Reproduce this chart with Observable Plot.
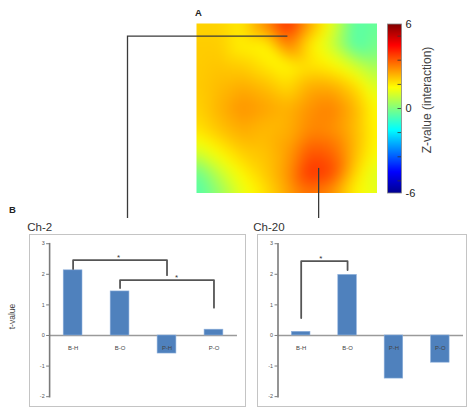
<!DOCTYPE html>
<html><head><meta charset="utf-8">
<script src="https://cdn.jsdelivr.net/npm/d3@7"></script>
<script src="https://cdn.jsdelivr.net/npm/@observablehq/plot@0.6"></script>
<style>
body{margin:0;background:#fff;}
#fig{position:relative;width:468px;height:410px;overflow:hidden;font-family:"Liberation Sans",Arial,sans-serif;background:#fff;}
.abs{position:absolute;}
.box{position:absolute;border:1px solid #c4c4c4;box-sizing:border-box;}
.box svg{position:absolute;left:-1px;top:-1px;}
#overlay{position:absolute;left:0;top:0;pointer-events:none;}
</style></head><body><div id="fig"></div>
<script>
// ---------- DATA ----------
// Z-value (interaction) map, 9 x 9 samples (row 0 = top)
const zRow0 = [2.0, 2.0, 1.7, 2.9, 4.2, 2.6, 1.2, -0.5, -0.3];
const zRow1 = [2.1, 2.1, 1.6, 1.5, 3.1, 1.7, 0.8, -0.6, -0.1];
const zRow2 = [2.1, 2.2, 2.1, 1.8, 1.5, 1.8, 1.6, 1.0, 0.4];
const zRow3 = [2.1, 2.3, 2.5, 2.3, 1.9, 2.5, 2.5, 2.0, 1.0];
const zRow4 = [2.0, 2.4, 2.8, 2.6, 2.4, 2.8, 3.0, 2.4, 1.4];
const zRow5 = [1.8, 2.2, 2.5, 2.3, 2.4, 2.9, 2.8, 2.3, 1.5];
const zRow6 = [1.0, 1.6, 2.1, 2.2, 2.6, 3.5, 3.3, 2.3, 1.4];
const zRow7 = [-0.3, 0.8, 1.6, 2.1, 2.7, 4.0, 3.7, 2.0, 1.0];
const zRow8 = [-0.6, 0.2, 1.2, 1.8, 2.5, 3.1, 2.7, 1.6, 1.2];
const zGrid = [zRow0, zRow1, zRow2, zRow3, zRow4, zRow5, zRow6, zRow7, zRow8];
const colorTicks = [-6, 0, 6];
const colorMinorTicks = [-5.14, -3.43, -1.71, 0, 1.71, 3.43, 5.14];
const colorLabel = "Z-value (interaction)";
// channel locations on the map (grid units)
const channelNames = ["Ch-2", "Ch-20"];
const channelX = [4.04, 5.42];
const channelY = [0.62, 6.82];

const categories = ["B-H", "B-O", "P-H", "P-O"];
const ch2Values = [2.13, 1.44, -0.59, 0.19];
const ch20Values = [0.12, 1.98, -1.41, -0.89];
const yTicks = [-2, -1, 0, 1, 2, 3];
const ch2Brackets = [
  {from: "B-H", to: "P-H", yFrom: 2.17, yTop: 2.46, yTo: 1.97},
  {from: "B-O", to: "P-O", yFrom: 1.55, yTop: 1.81, yTo: 0.91}
];
const ch20Brackets = [
  {from: "B-H", to: "B-O", yFrom: 0.57, yTop: 2.43, yTo: 2.14}
];

// ---------- LAYOUT ----------
const FONT = '"Liberation Sans", Arial, sans-serif';
const fig = document.getElementById("fig");
const jet = {
  type: "linear",
  domain: [-6, -4.5, -1.5, 1.5, 4.5, 6],
  range: ["#00008f", "#0000ff", "#00ffff", "#ffff00", "#ff0000", "#800000"],
  interpolate: "rgb"
};

// Heatmap
const heatSamples = zGrid.flatMap((row, j) => row.map((z, i) => ({col: i, row: j, z})));
const HEAT = {left: 196, top: 23, width: 181, height: 170};
const heat = Plot.plot({
  width: HEAT.width, height: HEAT.height, margin: 0,
  x: {domain: [0, 8], axis: null},
  y: {domain: [0, 8], reverse: true, axis: null},
  color: jet,
  marks: [
    Plot.raster(heatSamples, {x: "col", y: "row", fill: "z", interpolate: "barycentric", blur: 6, pixelSize: 1})
  ]
});
heat.classList.add("abs");
heat.style.left = HEAT.left + "px"; heat.style.top = HEAT.top + "px";
fig.appendChild(heat);

// Colorbar
const cbar = Plot.plot({
  width: 60, height: 220, marginLeft: 7, marginRight: 39, marginTop: 23.5, marginBottom: 27.5,
  style: {fontFamily: FONT, color: "#222", background: "transparent"},
  x: {domain: [0, 1], axis: null},
  y: {domain: [-6, 6], axis: null},
  color: jet,
  marks: [
    Plot.raster({fill: (x, y) => y, x1: 0, x2: 1, y1: -6, y2: 6, pixelSize: 1}),
    Plot.ruleY(colorMinorTicks, {x1: 0.75, x2: 1, stroke: "#333", strokeWidth: 0.8}),
    Plot.frame({stroke: "#888", strokeWidth: 0.8}),
    Plot.axisY(colorTicks, {anchor: "right", tickSize: 0, tickPadding: 4, fontSize: 11, tickFormat: d => String(d), label: null})
  ]
});
cbar.classList.add("abs");
cbar.style.left = "380px"; cbar.style.top = "0px";
fig.appendChild(cbar);

// Bar panels
function barPanel(values, brackets, o) {
  const data = categories.map((c, i) => ({cat: c, v: values[i]}));
  const pts = brackets.flatMap((b, k) => [
    {k, x: b.from, y: b.yFrom}, {k, x: b.from, y: b.yTop},
    {k, x: b.to, y: b.yTop}, {k, x: b.to, y: b.yTo}
  ]);
  const p = Plot.plot({
    width: o.width, height: o.height,
    marginLeft: o.marginLeft, marginRight: o.marginRight, marginTop: 9.3, marginBottom: 9.3,
    style: {fontFamily: FONT, background: "transparent"},
    x: {domain: categories, paddingInner: 0.6, paddingOuter: 0.3, round: false, axis: null},
    y: {domain: [-2, 3], axis: null},
    marks: [
      Plot.ruleY([0], {stroke: "#9a9a9a", strokeWidth: 1.4}),
      Plot.barY(data, {x: "cat", y: "v", fill: "#4f81bd", stroke: "#8eb0dc", strokeWidth: 0.6}),
      Plot.frame({anchor: "left", stroke: "#7a7a7a", strokeWidth: 1.6}),
      Plot.axisY(yTicks, {anchor: "left", tickSize: 3, tickPadding: 2, fontSize: 5.5, stroke: "#7a7a7a",
        fill: "#555", tickFormat: d => String(d), label: null}),
      Plot.text(data, {x: "cat", y: 0, text: "cat", dy: 13, fontSize: 6, fill: "#444"}),
      Plot.line(pts, {x: "x", y: "y", z: "k", stroke: "#555", strokeWidth: 1.8})
    ]
  });
  // significance stars placed with the plot's own scales
  const sx = p.scale("x"), sy = p.scale("y");
  const xb = d3.scaleBand(sx.domain, sx.range).paddingInner(sx.paddingInner).paddingOuter(sx.paddingOuter).align(sx.align ?? 0.5);
  const yl = d3.scaleLinear(sy.domain, sy.range);
  const g = d3.select(p).append("g");
  brackets.forEach((b, k) => {
    const cx = (xb(b.from) + xb(b.to)) / 2 + xb.bandwidth() / 2 + (o.starShift[k] || 0);
    g.append("text").attr("x", cx).attr("y", yl(b.yTop) + 0.5)
      .attr("text-anchor", "middle").attr("font-size", 8).attr("fill", "#333").text("*");
  });
  const box = document.createElement("div");
  box.className = "box";
  Object.assign(box.style, {left: o.left + "px", top: o.top + "px", width: o.width + "px", height: o.height + "px"});
  box.appendChild(p);
  fig.appendChild(box);
  return p;
}
barPanel(ch2Values, ch2Brackets, {left: 29, top: 234, width: 217, height: 173, marginLeft: 20.3, marginRight: 7.1, starShift: [-1, 10]});
barPanel(ch20Values, ch20Brackets, {left: 257, top: 234, width: 210, height: 173, marginLeft: 20.7, marginRight: 2, starShift: [-3]});

// Overlay: connectors and panel labels
const hxs = heat.scale("x"), hys = heat.scale("y");
const hx = d3.scaleLinear(hxs.domain, hxs.range), hy = d3.scaleLinear(hys.domain, hys.range);
const ov = d3.select(fig).append("svg").attr("id", "overlay").attr("width", 468).attr("height", 410)
  .style("font-family", FONT);
const DROP_Y = 218;
const c2x = HEAT.left + hx(channelX[0]), c2y = HEAT.top + hy(channelY[0]);
const c20x = HEAT.left + hx(channelX[1]), c20y = HEAT.top + hy(channelY[1]);
ov.append("path").attr("d", `M127.5,${DROP_Y}V${c2y}H${c2x}`).attr("fill", "none").attr("stroke", "#3a3a3a").attr("stroke-width", 1.3);
ov.append("path").attr("d", `M${c20x},${c20y}V${DROP_Y}`).attr("fill", "none").attr("stroke", "#3a3a3a").attr("stroke-width", 1.3);

ov.append("text").attr("x", 195).attr("y", 16).attr("font-size", 9.5).attr("font-weight", "bold").attr("fill", "#222").text("A");
ov.append("text").attr("x", 9).attr("y", 213).attr("font-size", 9.5).attr("font-weight", "bold").attr("fill", "#222").text("B");
ov.append("text").attr("x", 27.3).attr("y", 230.7).attr("font-size", 11.5).attr("fill", "#333").text(channelNames[0]);
ov.append("text").attr("x", 253.3).attr("y", 230.7).attr("font-size", 11.5).attr("fill", "#333").text(channelNames[1]);
ov.append("text").attr("transform", "translate(15,316.5) rotate(-90)").attr("text-anchor", "middle")
  .attr("font-size", 8.5).attr("fill", "#444").text("t-value");
ov.append("text").attr("transform", "translate(431,100) rotate(-90)").attr("text-anchor", "middle")
  .attr("font-size", 12).attr("fill", "#444").text(colorLabel);
</script></body></html>
